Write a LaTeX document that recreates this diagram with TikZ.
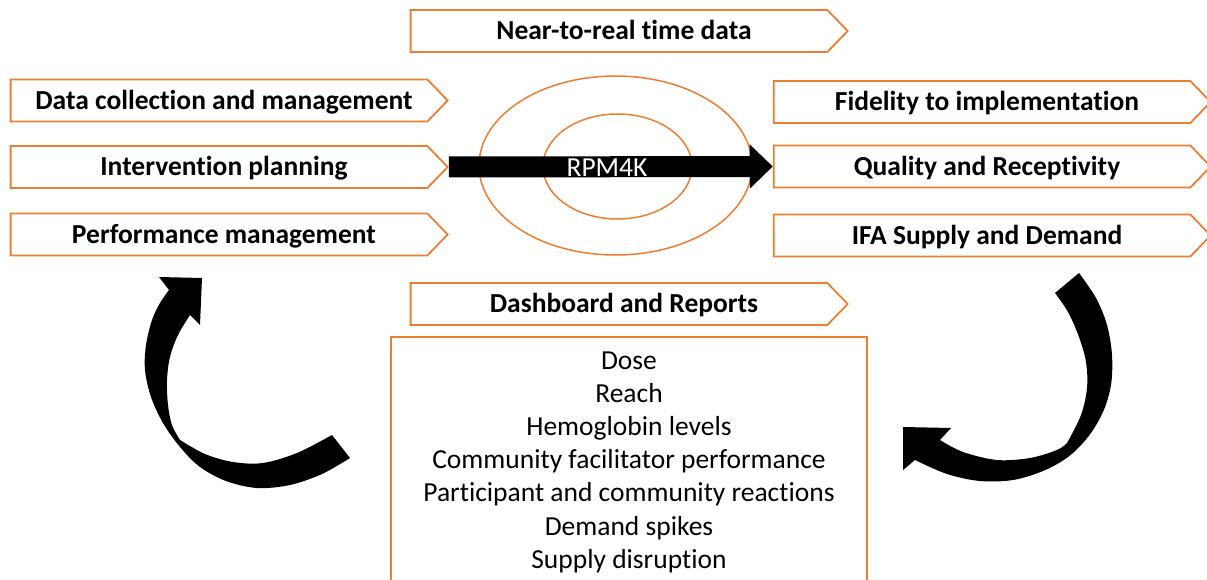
\documentclass[tikz,border=0pt]{standalone}
\usepackage{fontspec}
\setmainfont{Carlito}[Ligatures=NoCommon]
\usetikzlibrary{shapes.arrows,shapes.symbols,shapes.geometric,arrows.meta}
\definecolor{org}{HTML}{ED7D31}
\begin{document}
\begin{tikzpicture}[x=1pt,y=-1pt,
  sig/.style={signal, signal to=east, signal pointer angle=92, draw=org, line width=1.8pt,
    minimum width=437pt, minimum height=42pt, inner sep=0pt,
    text height=17.7pt, text depth=0pt,
    font=\fontsize{27.5}{32}\selectfont\bfseries, text=black,
    execute at begin node={\hspace*{10pt}}},
  ring/.style={ellipse, draw=org, line width=1.5pt, inner sep=0pt},
  curv/.style={fill=black},
]
\useasboundingbox (0,0) rectangle (1207,580);
\clip (0,0) rectangle (1207,580);

% rings
\node[ring, minimum width=273pt, minimum height=179pt] (outer) at (615.5,165.5) {};
\node[ring, minimum width=149pt, minimum height=105pt] (inner) at (617.5,166.5) {};

% arrow boxes
\node[sig] (near) at (619,31) {Near-to-real time data};
\node[sig] (dcm) at (219,100.5) {Data collection and management};
\node[sig] (ip) at (219,167) {Intervention planning};
\node[sig] (pm) at (219,234.5) {Performance management};
\node[sig] (fid) at (982,102) {Fidelity to implementation};
\node[sig] (qr) at (982,166.5) {Quality and Receptivity};
\node[sig] (ifa) at (982,235.5) {IFA Supply and Demand};
\node[sig] (dash) at (619,304) {Dashboard and Reports};

% central arrow
\draw[line width=21pt, -{Triangle[length=23pt,width=43pt]}] (ip.east) -- (qr.west);
\node[text=white, font=\fontsize{27.5}{32}\selectfont, text height=17.7pt, text depth=0pt] (rpm) at (607,168) {RPM4K};

% report box
\node[draw=org, line width=1.8pt, minimum width=476pt, minimum height=270pt, anchor=north] (rep) at (629,336) {};
\node[align=center, font=\fontsize{27.5}{33.2}\selectfont, anchor=north] (list) at (629,348)
  {Dose\\Reach\\Hemoglobin levels\\Community facilitator performance\\Participant and community reactions\\Demand spikes\\Supply disruption};

% left curved arrow
\fill[curv] (202,278) -- (200,325) -- (190,315)
  -- plot[smooth, tension=0.55] coordinates {(190,315) (178,335) (170,357) (167,380) (168,405) (172,425) (180,440)}
  -- plot[smooth, tension=0.55] coordinates {(180,440) (205,454) (233,462) (263,463) (297,453) (332,435)}
  -- (350,458)
  -- plot[smooth, tension=0.55] coordinates {(350,458) (322,474) (290,485) (257,488) (226,481) (200,467) (180,447) (163,423) (151,397) (145,370) (146,345) (152,320) (160,303) (169,290)}
  -- (159,277) -- cycle;

% right curved arrow
\fill[curv] (903,427) -- (951,428) -- (940,440)
  -- plot[smooth, tension=0.55] coordinates {(940,440) (963,452) (997,460) (1030,458) (1057,450) (1067,443)}
  -- plot[smooth, tension=0.55] coordinates {(1067,443) (1081,415) (1087,388) (1086,362) (1079,337) (1068,312) (1055,293)}
  -- (1079,273)
  -- plot[smooth, tension=0.55] coordinates {(1079,273) (1096,298) (1107,325) (1112,355) (1111,385) (1103,412) (1088,437) (1068,457) (1043,471) (1013,480) (980,481) (947,474) (915,460)}
  -- (903,470) -- cycle;
\end{tikzpicture}
\end{document}
